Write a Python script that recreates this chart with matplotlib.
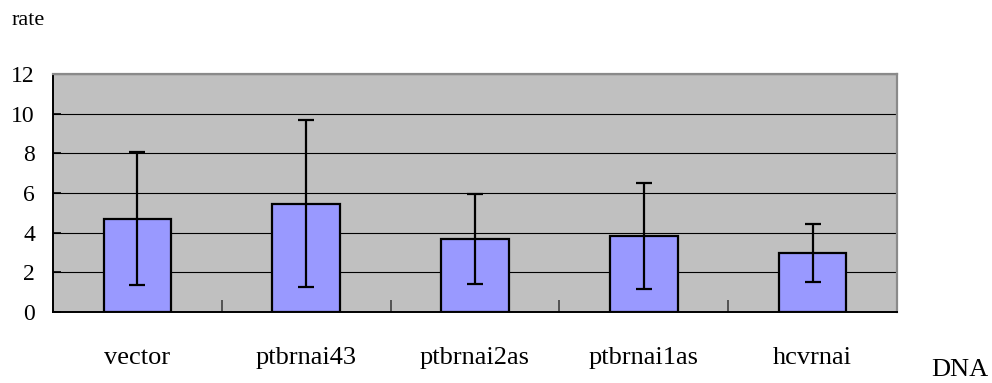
import matplotlib
matplotlib.use("Agg")
import matplotlib.pyplot as plt
import numpy as np

categories = ["vector", "ptbrnai43", "ptbrnai2as", "ptbrnai1as", "hcvrnai"]
rates = [4.70, 5.46, 3.68, 3.83, 2.97]
errors = [3.35, 4.22, 2.29, 2.66, 1.45]
y_ticks = [0, 2, 4, 6, 8, 10, 12]

plt.rcParams['font.family'] = ['Liberation Serif', 'DejaVu Serif']

fig = plt.figure(figsize=(9.92, 3.83), dpi=100)
ax = fig.add_axes([53/992, 1 - 312/383, (897-53)/992, (312-74)/383])
ax.set_facecolor("#C0C0C0")

x = np.arange(1, len(categories) + 1)
ax.set_axisbelow(True)
ax.yaxis.grid(True, color="black", linewidth=0.8)
ax.bar(x, rates, width=0.4, color="#9999FF", edgecolor="black", linewidth=1.6, zorder=2)
ax.errorbar(x, rates, yerr=errors, fmt="none", ecolor="black", elinewidth=1.6,
            capsize=5.8, capthick=1.6, zorder=3)

ax.set_xlim(0.5, len(categories) + 0.5)
ax.set_ylim(0, 12)
ax.set_yticks(y_ticks)
ax.set_yticklabels([str(t) for t in y_ticks], fontsize=17)
ax.tick_params(axis='y', direction='in', length=6, width=1.2, pad=13, colors='black')

ax.set_xticks(x)
ax.set_xticklabels(categories, fontsize=19)
ax.tick_params(axis='x', which='major', length=0, pad=25)
ax.set_xticks(np.arange(0.5, len(categories) + 1.0, 1.0), minor=True)
ax.tick_params(axis='x', which='minor', direction='in', length=9, width=1.2, color="#404040")

for s in ["top", "right"]:
    ax.spines[s].set_color("#8a8a8a")
    ax.spines[s].set_linewidth(1.6)
for s in ["left", "bottom"]:
    ax.spines[s].set_color("black")
    ax.spines[s].set_linewidth(1.4)

fig.text(12/992, 1 - 25/383, "rate", fontsize=16, ha="left", va="baseline")
fig.text(960/992, 1 - 376/383, "DNA", fontsize=19, ha="center", va="baseline")

fig.savefig("out.png", dpi=100)
